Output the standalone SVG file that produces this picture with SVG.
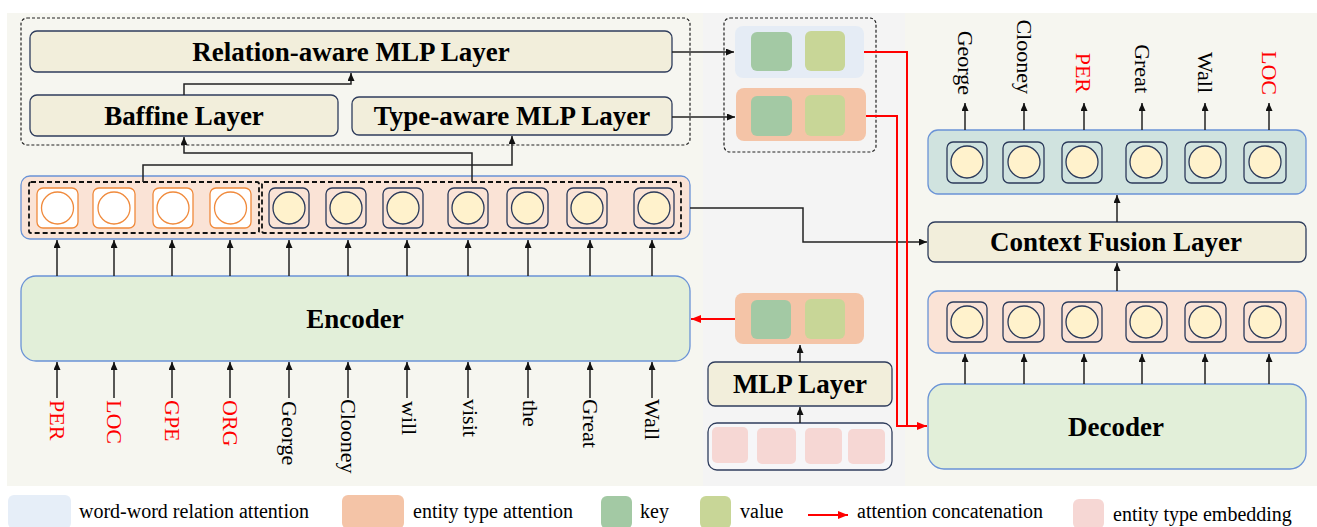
<svg xmlns="http://www.w3.org/2000/svg" width="1317" height="527" viewBox="0 0 1317 527">
<defs>
<style>
.layer{fill:#f2eedb;stroke:#2f3d5c;stroke-width:1.3}
.band{stroke:#6a93d6;stroke-width:1.3}
.bt{font-family:"Liberation Serif","Times New Roman",serif;font-weight:bold;font-size:27px;fill:#000;text-anchor:middle}
.wt{font-family:"Liberation Serif","Times New Roman",serif;font-size:22px;fill:#000}
.red{fill:#ff0000}
.lg{font-family:"Liberation Serif","Times New Roman",serif;font-size:20px;fill:#000}
.cellO{fill:#fff;stroke:#f08a3c;stroke-width:1.3}
.cellD{fill:none;stroke:#2b3a5a;stroke-width:1.3}
.circD{fill:#fff2cc;stroke:#2b3a5a;stroke-width:1.3}
.key{fill:#a3c9a4}
.val{fill:#c8d697}
.emb{fill:#f6d7d4}
.conn{fill:none;stroke:#222;stroke-width:1.5}
.rconn{fill:none;stroke:#ff0000;stroke-width:2}
.dash{fill:none;stroke:#222;stroke-width:1.2;stroke-dasharray:3,2}
.dash2{fill:none;stroke:#111;stroke-width:1.8;stroke-dasharray:5,3}
</style>
<marker id="ah" markerWidth="8" markerHeight="7" refX="8" refY="3.5" orient="auto" markerUnits="userSpaceOnUse"><path d="M0,0 L8,3.5 L0,7 z" fill="#111"/></marker>
<marker id="rah" markerWidth="10" markerHeight="8" refX="10" refY="4" orient="auto" markerUnits="userSpaceOnUse"><path d="M0,0 L10,4 L0,8 z" fill="#ff0000"/></marker>
</defs>
<rect width="1317" height="527" fill="#fff"/>
<!-- panels -->
<rect x="7" y="13" width="696" height="473" fill="#f6f6f0"/>
<rect x="703" y="13" width="202" height="473" fill="#f4f4f4"/>
<rect x="905" y="13" width="412" height="473" fill="#f6f6f0"/>

<!-- top-left group -->
<rect x="21" y="18" width="669" height="127" rx="6" class="dash"/>
<g id="relation-mlp"><rect x="30" y="31" width="642" height="41" rx="7" class="layer"/><text x="351" y="61" class="bt">Relation-aware MLP Layer</text></g>
<g id="baffine"><rect x="30" y="95" width="308" height="41" rx="7" class="layer"/><text x="184" y="125" class="bt">Baffine Layer</text></g>
<g id="type-mlp"><rect x="352" y="97" width="320" height="38" rx="7" class="layer"/><text x="512" y="125" class="bt">Type-aware MLP Layer</text></g>

<!-- attention group -->
<rect x="724" y="18" width="152" height="134" rx="6" class="dash"/>
<g id="rel-attn"><rect x="735" y="26" width="129" height="52" rx="8" fill="#e5ecf5"/><rect x="751" y="32" width="41" height="39" rx="6" class="key"/><rect x="805" y="31" width="40" height="40" rx="6" class="val"/></g>
<g id="type-attn"><rect x="736" y="88" width="130" height="53" rx="8" fill="#f4c4a7"/><rect x="751" y="96" width="41" height="40" rx="6" class="key"/><rect x="805" y="95" width="40" height="41" rx="6" class="val"/></g>

<!-- encoder output band -->
<g id="enc-band">
<rect x="21" y="176" width="669" height="63" rx="9" fill="#fae3d6" class="band"/>
<rect x="29" y="182" width="230" height="51" rx="2" class="dash2"/>
<rect x="262" y="182" width="419" height="51" rx="2" class="dash2"/>
<g>
<rect x="37" y="188" width="41" height="40" rx="6" class="cellO"/><circle cx="57.5" cy="208" r="16" class="cellO"/>
<rect x="93" y="188" width="42" height="40" rx="6" class="cellO"/><circle cx="114" cy="208" r="16" class="cellO"/>
<rect x="153" y="188" width="40" height="40" rx="6" class="cellO"/><circle cx="173" cy="208" r="16" class="cellO"/>
<rect x="210" y="188" width="41" height="40" rx="6" class="cellO"/><circle cx="230.5" cy="208" r="16" class="cellO"/>
</g>
<g>
<rect x="269" y="188" width="40" height="40" rx="6" class="cellD"/><circle cx="289" cy="208" r="16" class="circD"/>
<rect x="326" y="188" width="40" height="40" rx="6" class="cellD"/><circle cx="346" cy="208" r="16" class="circD"/>
<rect x="383" y="188" width="40" height="40" rx="6" class="cellD"/><circle cx="403" cy="208" r="16" class="circD"/>
<rect x="448" y="188" width="40" height="40" rx="6" class="cellD"/><circle cx="468" cy="208" r="16" class="circD"/>
<rect x="507" y="188" width="41" height="40" rx="6" class="cellD"/><circle cx="527.5" cy="208" r="16" class="circD"/>
<rect x="567" y="188" width="40" height="40" rx="6" class="cellD"/><circle cx="587" cy="208" r="16" class="circD"/>
<rect x="634" y="188" width="40" height="40" rx="6" class="cellD"/><circle cx="654" cy="208" r="16" class="circD"/>
</g>
</g>

<!-- encoder -->
<g id="encoder"><rect x="21" y="276" width="669" height="85" rx="15" fill="#e2efd9" class="band"/><text x="355" y="328" class="bt">Encoder</text></g>

<!-- input words -->
<g id="inputs">
<text class="wt red" transform="translate(50,400) rotate(90)">PER</text>
<text class="wt red" transform="translate(107,400) rotate(90)">LOC</text>
<text class="wt red" transform="translate(165,400) rotate(90)">GPE</text>
<text class="wt red" transform="translate(223,400) rotate(90)">ORG</text>
<text class="wt" transform="translate(282,401) rotate(90)">George</text>
<text class="wt" transform="translate(341,399) rotate(90)">Clooney</text>
<text class="wt" transform="translate(402,401) rotate(90)">will</text>
<text class="wt" transform="translate(463,399) rotate(90)">visit</text>
<text class="wt" transform="translate(523,400) rotate(90)">the</text>
<text class="wt" transform="translate(583,399) rotate(90)">Great</text>
<text class="wt" transform="translate(645,399) rotate(90)">Wall</text>
</g>

<!-- middle lower -->
<g id="type-attn2"><rect x="735" y="293" width="129" height="51" rx="8" fill="#f4c4a7"/><rect x="751" y="300" width="40" height="39" rx="6" class="key"/><rect x="805" y="299" width="40" height="40" rx="6" class="val"/></g>
<g id="mlp"><rect x="708" y="362" width="184" height="44" rx="7" class="layer"/><text x="800" y="393" class="bt">MLP Layer</text></g>
<g id="type-emb"><rect x="708" y="423" width="184" height="47" rx="9" fill="#f6f6f8" stroke="#2f3d5c" stroke-width="1.3"/>
<rect x="712" y="427" width="36" height="36" rx="5" class="emb"/><rect x="757" y="428" width="39" height="36" rx="5" class="emb"/><rect x="805" y="428" width="37" height="36" rx="5" class="emb"/><rect x="848" y="429" width="37" height="35" rx="5" class="emb"/></g>

<!-- right panel -->
<g id="out-band">
<rect x="928" y="130" width="378" height="64" rx="10" fill="#d0e3df" class="band"/>
<rect x="947" y="142" width="40" height="41" rx="6" class="cellD"/><circle cx="967" cy="162" r="16" class="circD"/>
<rect x="1003" y="142" width="41" height="41" rx="6" class="cellD"/><circle cx="1024" cy="162" r="16" class="circD"/>
<rect x="1062" y="142" width="40" height="41" rx="6" class="cellD"/><circle cx="1082" cy="162" r="16" class="circD"/>
<rect x="1126" y="142" width="41" height="41" rx="6" class="cellD"/><circle cx="1146" cy="162" r="16" class="circD"/>
<rect x="1185" y="142" width="41" height="41" rx="6" class="cellD"/><circle cx="1205" cy="162" r="16" class="circD"/>
<rect x="1244" y="142" width="42" height="41" rx="6" class="cellD"/><circle cx="1265" cy="162" r="16" class="circD"/>
</g>
<g id="outputs">
<text class="wt" text-anchor="end" transform="translate(958,95) rotate(90)">George</text>
<text class="wt" text-anchor="end" transform="translate(1017,94) rotate(90)">Clooney</text>
<text class="wt red" text-anchor="end" transform="translate(1076,93) rotate(90)">PER</text>
<text class="wt" text-anchor="end" transform="translate(1135,93) rotate(90)">Great</text>
<text class="wt" text-anchor="end" transform="translate(1198,93) rotate(90)">Wall</text>
<text class="wt red" text-anchor="end" transform="translate(1262,95) rotate(90)">LOC</text>
</g>
<g id="context-fusion"><rect x="928" y="222" width="378" height="40" rx="7" class="layer"/><text x="1116" y="251" class="bt">Context Fusion Layer</text></g>
<g id="dec-band">
<rect x="928" y="291" width="378" height="62" rx="10" fill="#fae3d6" class="band"/>
<rect x="947" y="302" width="40" height="40" rx="6" class="cellD"/><circle cx="967" cy="322" r="16" class="circD"/>
<rect x="1003" y="302" width="41" height="40" rx="6" class="cellD"/><circle cx="1024" cy="322" r="16" class="circD"/>
<rect x="1062" y="302" width="40" height="40" rx="6" class="cellD"/><circle cx="1082" cy="322" r="16" class="circD"/>
<rect x="1126" y="302" width="41" height="40" rx="6" class="cellD"/><circle cx="1146" cy="322" r="16" class="circD"/>
<rect x="1185" y="302" width="41" height="40" rx="6" class="cellD"/><circle cx="1205" cy="322" r="16" class="circD"/>
<rect x="1244" y="302" width="42" height="40" rx="6" class="cellD"/><circle cx="1265" cy="322" r="16" class="circD"/>
</g>
<g id="decoder"><rect x="928" y="384" width="378" height="85" rx="16" fill="#e2efd9" class="band"/><text x="1116" y="436" class="bt">Decoder</text></g>

<!-- connectors -->
<g id="connectors">
<path class="conn" d="M184,95 V84 H351 V73" marker-end="url(#ah)"/>
<path class="conn" d="M472,182 V153 H184 V137" marker-end="url(#ah)"/>
<path class="conn" d="M143,182 V165 H512 V136" marker-end="url(#ah)"/>
<path class="conn" d="M672,52 H734" marker-end="url(#ah)"/>
<path class="conn" d="M672,117 H735" marker-end="url(#ah)"/>
<path class="conn" d="M690,208 H803 V242 H927" marker-end="url(#ah)"/>
<g>
<path class="conn" d="M57,276 V240" marker-end="url(#ah)"/>
<path class="conn" d="M114,276 V240" marker-end="url(#ah)"/>
<path class="conn" d="M172,276 V240" marker-end="url(#ah)"/>
<path class="conn" d="M230,276 V240" marker-end="url(#ah)"/>
<path class="conn" d="M289,276 V240" marker-end="url(#ah)"/>
<path class="conn" d="M348,276 V240" marker-end="url(#ah)"/>
<path class="conn" d="M407,276 V240" marker-end="url(#ah)"/>
<path class="conn" d="M468,276 V240" marker-end="url(#ah)"/>
<path class="conn" d="M528,276 V240" marker-end="url(#ah)"/>
<path class="conn" d="M590,276 V240" marker-end="url(#ah)"/>
<path class="conn" d="M652,276 V240" marker-end="url(#ah)"/>
</g>
<g>
<path class="conn" d="M57,398 V362" marker-end="url(#ah)"/>
<path class="conn" d="M114,398 V362" marker-end="url(#ah)"/>
<path class="conn" d="M172,398 V362" marker-end="url(#ah)"/>
<path class="conn" d="M230,398 V362" marker-end="url(#ah)"/>
<path class="conn" d="M289,398 V362" marker-end="url(#ah)"/>
<path class="conn" d="M348,398 V362" marker-end="url(#ah)"/>
<path class="conn" d="M407,398 V362" marker-end="url(#ah)"/>
<path class="conn" d="M468,398 V362" marker-end="url(#ah)"/>
<path class="conn" d="M528,398 V362" marker-end="url(#ah)"/>
<path class="conn" d="M590,398 V362" marker-end="url(#ah)"/>
<path class="conn" d="M652,398 V362" marker-end="url(#ah)"/>
</g>
<path class="conn" d="M800,362 V345" marker-end="url(#ah)"/>
<path class="conn" d="M800,423 V407" marker-end="url(#ah)"/>
<path class="rconn" d="M735,319 H691" marker-end="url(#rah)"/>
<path class="rconn" d="M864,52 H907 V426"/>
<path class="rconn" d="M866,116 H897 V426 H927" marker-end="url(#rah)"/>
<g>
<path class="conn" d="M965,130 V103" marker-end="url(#ah)"/>
<path class="conn" d="M1024,130 V103" marker-end="url(#ah)"/>
<path class="conn" d="M1084,130 V103" marker-end="url(#ah)"/>
<path class="conn" d="M1142,130 V103" marker-end="url(#ah)"/>
<path class="conn" d="M1205,130 V103" marker-end="url(#ah)"/>
<path class="conn" d="M1269,130 V103" marker-end="url(#ah)"/>
</g>
<path class="conn" d="M1117,222 V195" marker-end="url(#ah)"/>
<path class="conn" d="M1117,291 V263" marker-end="url(#ah)"/>
<g>
<path class="conn" d="M965,384 V354" marker-end="url(#ah)"/>
<path class="conn" d="M1024,384 V354" marker-end="url(#ah)"/>
<path class="conn" d="M1084,384 V354" marker-end="url(#ah)"/>
<path class="conn" d="M1142,384 V354" marker-end="url(#ah)"/>
<path class="conn" d="M1205,384 V354" marker-end="url(#ah)"/>
<path class="conn" d="M1269,384 V354" marker-end="url(#ah)"/>
</g>
</g>

<!-- legend -->
<g id="legend">
<rect x="8" y="495" width="63" height="34" rx="6" fill="#e6eef8"/>
<text x="79" y="518" class="lg">word-word relation attention</text>
<rect x="342" y="495" width="62" height="34" rx="6" fill="#f4c4a7"/>
<text x="413" y="518" class="lg">entity type attention</text>
<rect x="601" y="496" width="31" height="33" rx="6" class="key"/>
<text x="640" y="518" class="lg">key</text>
<rect x="700" y="496" width="31" height="33" rx="6" class="val"/>
<text x="740" y="518" class="lg">value</text>
<path class="rconn" d="M808,515 H848" marker-end="url(#rah)"/>
<text x="857" y="518" class="lg">attention concatenation</text>
<rect x="1073" y="499" width="31" height="30" rx="6" class="emb"/>
<text x="1113" y="521" class="lg">entity type embedding</text>
</g>
</svg>
